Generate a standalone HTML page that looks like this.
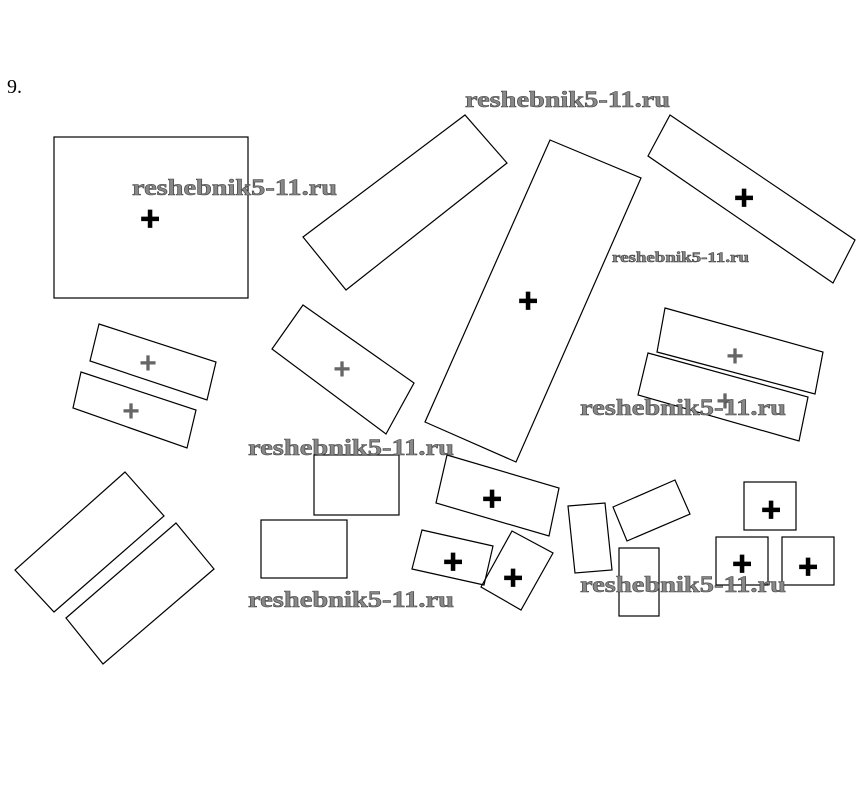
<!DOCTYPE html>
<html><head><meta charset="utf-8"><style>
html,body{margin:0;padding:0;background:#fff;}
svg{display:block}
.w{font-family:"Liberation Serif",serif;font-weight:bold;fill:#888;stroke:#444;stroke-width:0.6;}
</style></head><body>
<svg width="862" height="791" viewBox="0 0 862 791" xmlns="http://www.w3.org/2000/svg">
<g fill="none" stroke="#000" stroke-width="1.2">
<rect x="54" y="137" width="194" height="161"/>
<polygon points="303,237 465,115 507,163 346,290"/>
<polygon points="550,140 641,178 516,462 425,422"/>
<polygon points="670,115 855,240 833,283 648,156"/>
<polygon points="99,324 216,362 207,400 90,361"/>
<polygon points="81,372 196,410 187,448 73,408"/>
<polygon points="303,305 414,383 386,434 272,349"/>
<polygon points="665,308 823,352 815,394 657,352"/>
<polygon points="648,353 808,397 799,441 638,395"/>
<polygon points="125,472 164,516 54,612 15,570"/>
<polygon points="176,523 214,569 103,664 66,618"/>
<rect x="314" y="455" width="85" height="60"/>
<rect x="261" y="520" width="86" height="58"/>
<polygon points="447,455 559,488 549,536 436,503"/>
<polygon points="422,530 493,546 484,585 412,569"/>
<polygon points="512,531 553,553 521,610 481,587"/>
<polygon points="568,506 605,503 612,570 575,573"/>
<polygon points="613,507 675,480 690,514 627,541"/>
<rect x="619" y="548" width="40" height="68"/>
<rect x="744" y="482" width="52" height="48"/>
<rect x="716" y="537" width="52" height="48"/>
<rect x="782" y="537" width="52" height="48"/>
</g>
<g font-family="Liberation Sans,sans-serif" font-size="34" font-weight="bold" text-anchor="middle" fill="#000" stroke="#000" stroke-width="0.8">
<text x="150" y="230">+</text>
<text x="528" y="312">+</text>
<text x="744" y="209">+</text>
<text x="492" y="510">+</text>
<text x="453" y="573">+</text>
<text x="513" y="589">+</text>
<text x="771" y="521">+</text>
<text x="742" y="575">+</text>
<text x="808" y="578">+</text>
</g>
<g font-family="Liberation Sans,sans-serif" font-size="30" font-weight="bold" text-anchor="middle" fill="#666">
<text x="148" y="373">+</text>
<text x="131" y="421">+</text>
<text x="342" y="379">+</text>
<text x="735" y="366">+</text>
<text x="725" y="411">+</text>
</g>
<text x="7" y="93" font-family="Liberation Serif,serif" font-size="20">9.</text>
<text class="w" x="465" y="107" font-size="23" textLength="205" lengthAdjust="spacingAndGlyphs">reshebnik5-11.ru</text>
<text class="w" x="132" y="195" font-size="23" textLength="205" lengthAdjust="spacingAndGlyphs">reshebnik5-11.ru</text>
<text class="w" x="612" y="262" font-size="15" textLength="137" lengthAdjust="spacingAndGlyphs">reshebnik5-11.ru</text>
<text class="w" x="580" y="415" font-size="23" textLength="206" lengthAdjust="spacingAndGlyphs">reshebnik5-11.ru</text>
<text class="w" x="248" y="455" font-size="23" textLength="206" lengthAdjust="spacingAndGlyphs">reshebnik5-11.ru</text>
<text class="w" x="248" y="607" font-size="23" textLength="206" lengthAdjust="spacingAndGlyphs">reshebnik5-11.ru</text>
<text class="w" x="580" y="592" font-size="23" textLength="206" lengthAdjust="spacingAndGlyphs">reshebnik5-11.ru</text>
</svg>
</body></html>
